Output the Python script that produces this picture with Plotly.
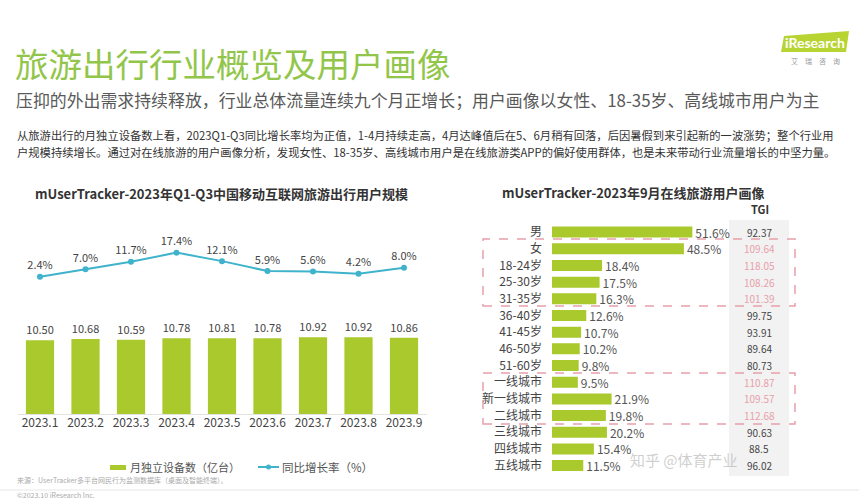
import plotly.graph_objects as go

W, H = 859, 500

# ---------------- data ----------------
months = ["2023.1", "2023.2", "2023.3", "2023.4", "2023.5", "2023.6", "2023.7", "2023.8", "2023.9"]
devices = [10.50, 10.68, 10.59, 10.78, 10.81, 10.78, 10.92, 10.92, 10.86]
growth = [2.4, 7.0, 11.7, 17.4, 12.1, 5.9, 5.6, 4.2, 8.0]

profile_cats = ["男", "女", "18-24岁", "25-30岁", "31-35岁", "36-40岁", "41-45岁", "46-50岁", "51-60岁",
                "一线城市", "新一线城市", "二线城市", "三线城市", "四线城市", "五线城市"]
profile_vals = [51.6, 48.5, 18.4, 17.5, 16.3, 12.6, 10.7, 10.2, 9.8, 9.5, 21.9, 19.8, 20.2, 15.4, 11.5]
tgi_vals = ["92.37", "109.64", "118.05", "108.26", "101.39", "99.75", "93.91", "89.64", "80.73",
            "110.87", "109.57", "112.68", "90.63", "88.5", "96.02"]
tgi_highlight = [False, True, True, True, True, False, False, False, False,
                 True, True, True, False, False, False]

FONT = "Noto Sans CJK SC, Noto Sans, sans-serif"
GREEN = "#a9c92c"
LINE = "#3fb3cb"
PINK = "#e8a0aa"


def px(x):
    return x / W


def py(y):
    return 1 - y / H


fig = go.Figure()

# left: bars
fig.add_trace(go.Bar(
    x=months, y=devices, xaxis="x", yaxis="y",
    marker=dict(color=GREEN, line=dict(width=0)),
    width=0.62,
    text=[f"{v:.2f}" for v in devices], textposition="outside", constraintext="none",
    textfont=dict(size=11, color="#444", family=FONT),
    cliponaxis=False, showlegend=False,
))

# left: growth line
fig.add_trace(go.Scatter(
    x=months, y=growth, xaxis="x", yaxis="y2",
    mode="lines+markers+text",
    line=dict(color=LINE, width=2),
    marker=dict(color=LINE, size=6),
    text=[f"{v:.1f}%" for v in growth], textposition="top center",
    textfont=dict(size=11, color="#444", family=FONT),
    cliponaxis=False, showlegend=False,
))

# right: profile bars
fig.add_trace(go.Bar(
    x=profile_vals, y=profile_cats, orientation="h", xaxis="x3", yaxis="y3",
    marker=dict(color=GREEN, line=dict(width=0)),
    width=0.66,
    text=[f"{v:.1f}%" for v in profile_vals], textposition="outside", constraintext="none",
    textfont=dict(size=12, color="#555", family=FONT),
    cliponaxis=False, showlegend=False,
))

shapes = []
annotations = []


def note(x, y, text, size, color, xanchor="left", yref="paper", family=FONT):
    annotations.append(dict(xref="paper", yref=yref, x=px(x), y=(py(y) if yref == "paper" else y),
                            text=text, showarrow=False, xanchor=xanchor, yanchor="middle",
                            font=dict(size=size, color=color, family=family)))


# TGI column background
shapes.append(dict(type="rect", xref="paper", yref="paper",
                   x0=px(729), x1=px(789), y0=py(476), y1=py(220),
                   fillcolor="#f2f2f2", line=dict(width=0), layer="below"))

# TGI values
for c, t, hl in zip(profile_cats, tgi_vals, tgi_highlight):
    note(759, c, t, 10, PINK if hl else "#444", xanchor="center", yref="y3")

note(760, 209, "<b>TGI</b>", 11, "#333", xanchor="center")

# dashed highlight boxes
for y0, y1 in [(239, 306), (373, 424)]:
    shapes.append(dict(type="rect", xref="paper", yref="paper",
                       x0=px(483), x1=px(795), y0=py(y1), y1=py(y0),
                       line=dict(color=PINK, width=1.5, dash="dash"), fillcolor="rgba(0,0,0,0)"))

# left axis baseline
shapes.append(dict(type="line", xref="paper", yref="paper",
                   x0=px(18), x1=px(427), y0=py(414.5), y1=py(414.5),
                   line=dict(color="#e3e3e3", width=1)))

# footer line
shapes.append(dict(type="line", xref="paper", yref="paper",
                   x0=0, x1=1, y0=py(490), y1=py(490),
                   line=dict(color="#e6e6e6", width=1)))

# legend (manual)
shapes.append(dict(type="rect", xref="paper", yref="paper",
                   x0=px(110), x1=px(126), y0=py(470), y1=py(465),
                   fillcolor=GREEN, line=dict(width=0)))
note(128, 467, "月独立设备数（亿台）", 11, "#555")
shapes.append(dict(type="line", xref="paper", yref="paper",
                   x0=px(258), x1=px(279), y0=py(467), y1=py(467),
                   line=dict(color=LINE, width=2)))
shapes.append(dict(type="circle", xref="paper", yref="paper",
                   x0=px(266), x1=px(271), y0=py(469.5), y1=py(464.5),
                   fillcolor=LINE, line=dict(width=0)))
note(280, 467, "同比增长率（%）", 11.5, "#555")

# header texts
note(13, 62, "旅游出行行业概览及用户画像", 33.5, "#92c64a")
note(14, 100, "压抑的外出需求持续释放，行业总体流量连续九个月正增长；用户画像以女性、18-35岁、高线城市用户为主",
     16.9, "#595959")
note(15, 135, "从旅游出行的月独立设备数上看，2023Q1-Q3同比增长率均为正值，1-4月持续走高，4月达峰值后在5、6月稍有回落，后因暑假到来引起新的一波涨势；整个行业用",
     11.3, "#333")
note(15, 152, "户规模持续增长。通过对在线旅游的用户画像分析，发现女性、18-35岁、高线城市用户是在线旅游类APP的偏好使用群体，也是未来带动行业流量增长的中坚力量。",
     11.3, "#333")

# chart titles
note(221, 193, "<b>mUserTracker-2023年Q1-Q3中国移动互联网旅游出行用户规模</b>", 13, "#333", xanchor="center")
note(500, 192, "<b>mUserTracker-2023年9月在线旅游用户画像</b>", 13, "#333")

# footer
note(15, 480, "来源：UserTracker多平台网民行为监测数据库（桌面及智能终端）。", 7, "#aaa")
note(15, 495, "©2023.10 iResearch Inc.", 7, "#aaa")

# iResearch logo
shapes.append(dict(type="path", xref="paper", yref="paper",
                   path=f"M {px(781)},{py(52)} L {px(846)},{py(52)} L {px(849)},{py(31)} L {px(784)},{py(36)} Z",
                   fillcolor="#b8d432", line=dict(width=0)))
note(815, 43, "<b>iResearch</b>", 14, "white", xanchor="center", family="Lato, sans-serif")
note(815, 61, "艾　瑞　咨　询", 7, "#999", xanchor="center")

# watermark
note(628, 459, "知乎 @体育产业", 15, "rgba(160,160,160,0.5)")

fig.update_layout(
    width=W, height=H,
    margin=dict(l=0, r=0, t=0, b=0),
    paper_bgcolor="white", plot_bgcolor="white",
    font=dict(family=FONT),
    xaxis=dict(domain=[px(17.25), px(426.75)], type="category", range=[-0.5, 8.5],
               showgrid=False, showline=False, zeroline=False, ticks="",
               tickfont=dict(size=12, color="#444", family=FONT), anchor="y"),
    yaxis=dict(domain=[py(414), py(330)], range=[0, 11.97], visible=False, fixedrange=True),
    yaxis2=dict(domain=[py(300), py(240)], range=[-12.19, 25.3], visible=False, anchor="x"),
    xaxis3=dict(domain=[px(552), px(715.2)], range=[0, 60], visible=False, anchor="y3"),
    yaxis3=dict(domain=[py(475.1), py(222.6)], type="category", autorange="reversed",
                showgrid=False, showline=False, zeroline=False, ticks="", anchor="x3",
                ticklabelstandoff=9,
                tickfont=dict(size=12, color="#444", family=FONT)),
    shapes=shapes,
    annotations=annotations,
)

fig.write_html("out.html", config={"displayModeBar": False},
               post_script="document.body.style.margin='0';")
